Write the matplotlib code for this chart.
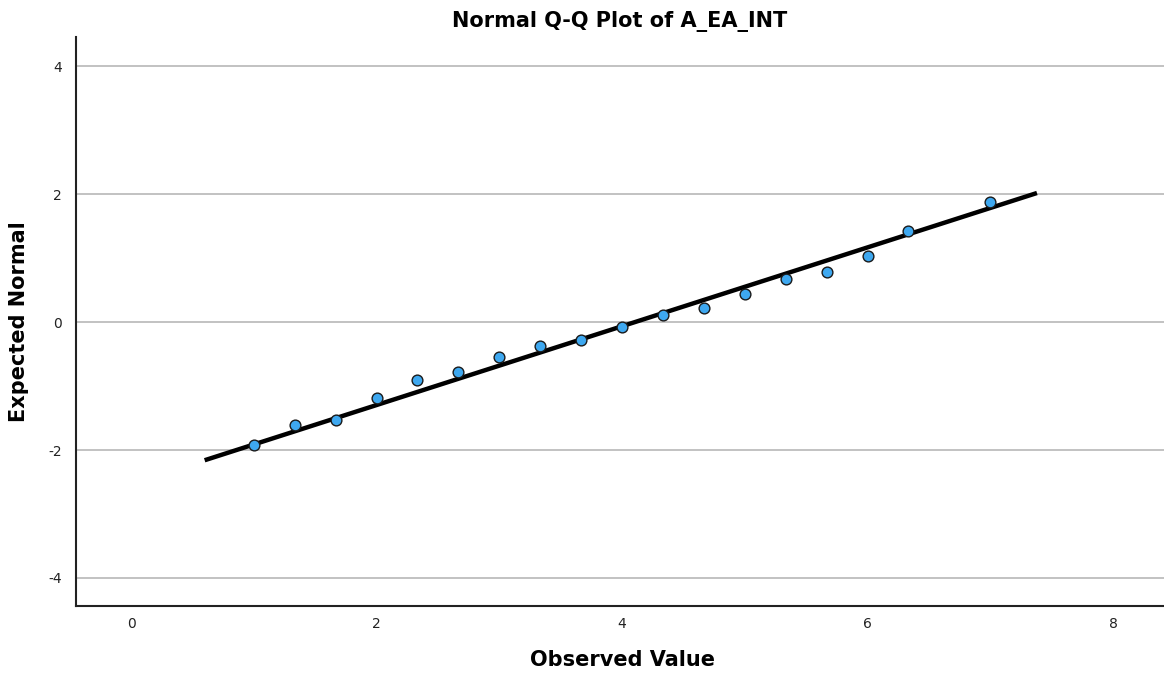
import matplotlib
matplotlib.use("Agg")
import matplotlib.pyplot as plt

plt.rcParams["font.family"] = ["DejaVu Sans"]
plt.rcParams["axes.unicode_minus"] = False

observed = [1.0, 1.333, 1.667, 2.0, 2.333, 2.667, 3.0, 3.333, 3.667,
            4.0, 4.333, 4.667, 5.0, 5.333, 5.667, 6.0, 6.333, 7.0]
expected = [-1.92, -1.61, -1.53, -1.19, -0.91, -0.78, -0.55, -0.38, -0.28,
            -0.08, 0.11, 0.22, 0.44, 0.67, 0.78, 1.03, 1.42, 1.88]

line_x = [0.60, 7.38]
line_y = [-2.16, 2.02]

xticks = [0, 2, 4, 6, 8]
yticks = [-4, -2, 0, 2, 4]

fig = plt.figure(figsize=(11.64, 6.79), dpi=100)
ax = fig.add_axes([0.0653, 0.1075, 0.9347, 0.838])

ax.set_xlim(-0.448, 8.415)
ax.set_ylim(-4.44, 4.46)

for yt in yticks:
    ax.axhline(yt, color="#b8b8b8", lw=1.2, zorder=0)

ax.plot(line_x, line_y, color="black", lw=3.2, zorder=2, solid_capstyle="butt")
ax.scatter(observed, expected, s=60, color="#3ea8f0", edgecolors="#1a1a1a",
           linewidths=1.0, zorder=3)

ax.set_xticks(xticks)
ax.set_yticks(yticks)
ax.tick_params(length=0, labelsize=10, colors="#222222", pad=8)
ax.tick_params(axis="y", pad=10)

for side in ["top", "right"]:
    ax.spines[side].set_visible(False)
for side in ["left", "bottom"]:
    ax.spines[side].set_linewidth(1.5)
    ax.spines[side].set_color("#222222")

ax.set_title("Normal Q-Q Plot of A_EA_INT", fontsize=15, fontweight="bold", pad=7)
ax.set_xlabel("Observed Value", fontsize=15, fontweight="bold")
ax.set_ylabel("Expected Normal", fontsize=15, fontweight="bold")
ax.xaxis.set_label_coords(0.502, -0.077)
ax.yaxis.set_label_coords(-0.043, 0.5)

fig.savefig("out.png", dpi=100)
